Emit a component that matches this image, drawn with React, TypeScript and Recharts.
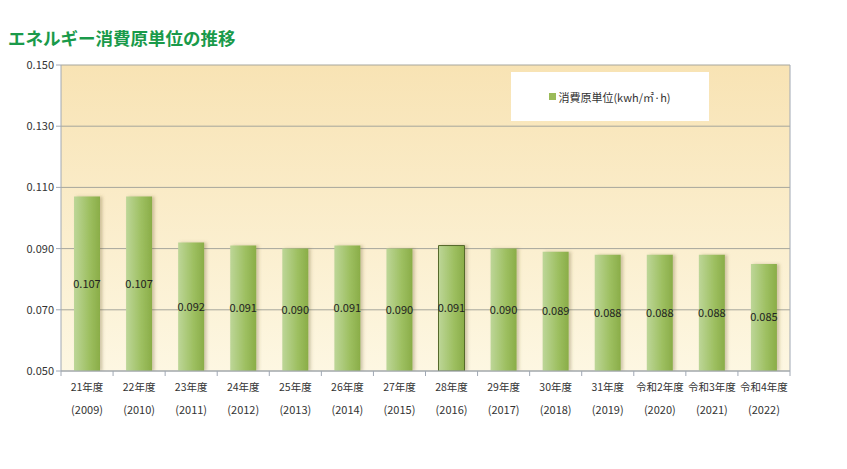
import React from "react";
import {
  ComposedChart,
  Bar,
  XAxis,
  YAxis,
  CartesianGrid,
  Legend,
  LabelList,
  Cell,
} from "recharts";

const categories = [
  "21年度", "22年度", "23年度", "24年度", "25年度", "26年度", "27年度",
  "28年度", "29年度", "30年度", "31年度", "令和2年度", "令和3年度", "令和4年度",
];
const years = [
  "(2009)", "(2010)", "(2011)", "(2012)", "(2013)", "(2014)", "(2015)",
  "(2016)", "(2017)", "(2018)", "(2019)", "(2020)", "(2021)", "(2022)",
];
const values = [0.107, 0.107, 0.092, 0.091, 0.09, 0.091, 0.09, 0.091, 0.09, 0.089, 0.088, 0.088, 0.088, 0.085];
const leftTicks = [0.05, 0.07, 0.09, 0.11, 0.13, 0.15];
const rightTicks = [0.4, 0.5, 0.6, 0.7, 0.8, 0.9, 1.0, 1.1, 1.2];
const highlightIndex = 7;
const seriesName = "消費原単位(kwh/㎡·h)";

const data = categories.map((c, i) => ({ name: c, year: years[i], value: values[i] }));

const FONT = "'Noto Sans CJK JP', 'Noto Sans', sans-serif";

const XTick = (props: any) => {
  const { x, y, payload, index } = props;
  const half = 729 / 14 / 2;
  return (
    <g>
      <line x1={x - half} x2={x - half} y1={y - 8} y2={y - 3} stroke="#a0a8b4" />
      {index === categories.length - 1 && (
        <line x1={x + half} x2={x + half} y1={y - 8} y2={y - 3} stroke="#a0a8b4" />
      )}
      <text x={x} y={y + 12} textAnchor="middle" fontSize={10.5} fill="#333" fontFamily={FONT}>
        {payload.value}
      </text>
      <text x={x} y={y + 35} textAnchor="middle" fontSize={11} fill="#333" fontFamily={FONT}>
        {years[index]}
      </text>
    </g>
  );
};

const LegendContent = () => (
  <div
    style={{
      width: 198,
      height: 49,
      background: "#fff",
      display: "flex",
      alignItems: "center",
      justifyContent: "center",
      fontFamily: FONT,
      fontSize: 11,
      color: "#333",
    }}
  >
    <span style={{ display: "inline-block", width: 7, height: 7, background: "#9bbb59", marginRight: 2 }} />
    <span>{seriesName}</span>
  </div>
);

export default function App() {
  return (
    <div style={{ position: "absolute", left: 0, top: 0, width: 847, height: 469, background: "#fff" }}>
      <div
        style={{
          position: "absolute",
          left: 8,
          top: 26,
          fontFamily: FONT,
          fontWeight: 700,
          fontSize: 17.5,
          color: "#1a9a4a",
          whiteSpace: "nowrap",
          lineHeight: "24px",
        }}
      >
        エネルギー消費原単位の推移
      </div>
      <ComposedChart
        width={847}
        height={469}
        data={data}
        margin={{ top: 65, right: 7, bottom: 48, left: 11 }}
        barCategoryGap="25%"
      >
        <defs>
          <linearGradient id="bgGrad" x1="0" y1="0" x2="0" y2="1">
            <stop offset="0%" stopColor="#f8e3b4" />
            <stop offset="100%" stopColor="#fdf7e2" />
          </linearGradient>
          <linearGradient id="barGrad" x1="0" y1="0" x2="1" y2="0">
            <stop offset="0%" stopColor="#bdd698" />
            <stop offset="60%" stopColor="#9dbf60" />
            <stop offset="100%" stopColor="#8aad48" />
          </linearGradient>
          <filter id="shadow" x="-20%" y="-5%" width="150%" height="110%">
            <feDropShadow dx="2.5" dy="0" stdDeviation="1.5" floodColor="#6b5a30" floodOpacity="0.3" />
          </filter>
        </defs>
        <CartesianGrid
          vertical={false}
          stroke="#a6a69c"
          fill="url(#bgGrad)"
          yAxisId="left"
        />
        <XAxis
          dataKey="name"
          tick={<XTick />}
          tickLine={false}
          axisLine={{ stroke: "#a0a8b4" }}
          interval={0}
          height={50}
        />
        <YAxis
          yAxisId="left"
          domain={[0.05, 0.15]}
          ticks={leftTicks}
          tickFormatter={(v: number) => v.toFixed(3)}
          width={50}
          axisLine={{ stroke: "#a0a8b4" }}
          tickLine={{ stroke: "#a0a8b4" }}
          tickSize={5}
          tick={{ fontSize: 11, fill: "#333", fontFamily: FONT }}
          allowDataOverflow
        />
        <YAxis
          yAxisId="right"
          orientation="right"
          domain={[0.4, 1.2]}
          ticks={rightTicks}
          tickFormatter={(v: number) => v.toFixed(2)}
          width={50}
          axisLine={{ stroke: "#a0a8b4" }}
          tickLine={{ stroke: "#a0a8b4" }}
          tickSize={5}
          tick={{ fontSize: 11, fill: "#333", fontFamily: FONT, textAnchor: "start" }}
        />
        <Legend
          layout="horizontal"
          verticalAlign="middle"
          align="center"
          content={<LegendContent />}
          wrapperStyle={{ position: "absolute", left: 511, top: 72, width: 198, height: 49 }}
        />
        <Bar
          yAxisId="left"
          dataKey="value"
          name={seriesName}
          barSize={26}
          fill="url(#barGrad)"
          isAnimationActive={false}
          style={{ filter: "url(#shadow)" }}
        >
          {data.map((_, i) => (
            <Cell
              key={i}
              fill="url(#barGrad)"
              stroke={i === highlightIndex ? "#55692a" : "none"}
              strokeWidth={i === highlightIndex ? 1 : 0}
            />
          ))}
          <LabelList
            dataKey="value"
            position="center"
            formatter={(v: number) => v.toFixed(3)}
            style={{ fontSize: 11, fill: "#222", fontFamily: FONT }}
          />
        </Bar>
      </ComposedChart>
    </div>
  );
}
